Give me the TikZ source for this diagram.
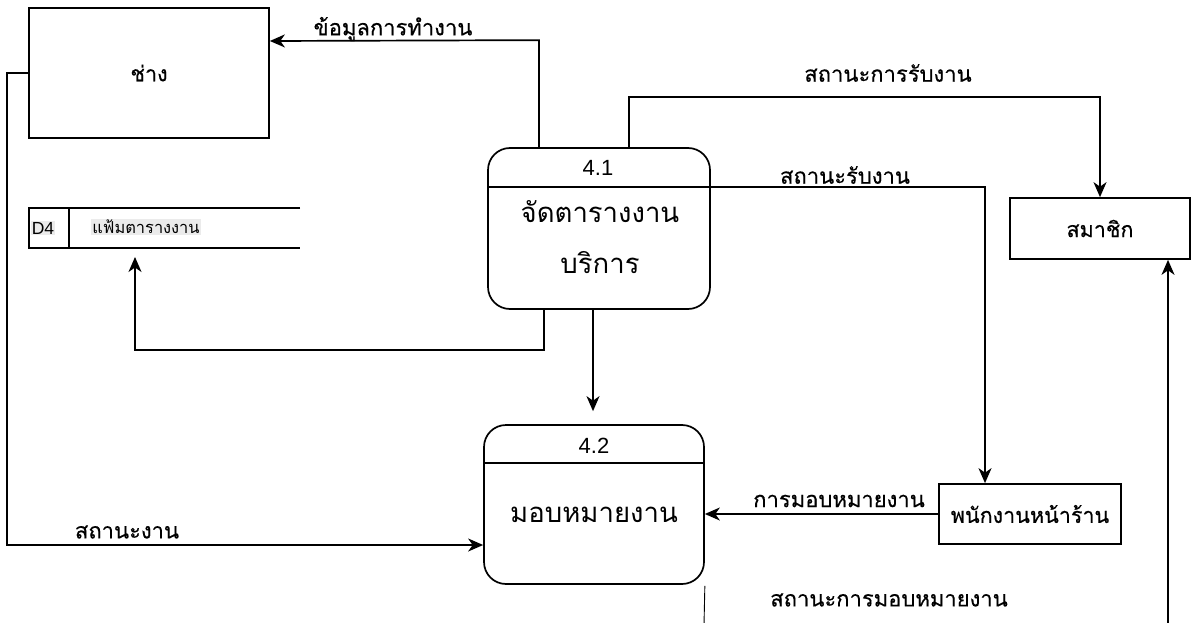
\documentclass[tikz,border=0pt]{standalone}
\usepackage{fontspec}
\setmainfont{Liberation Sans}
\newfontfamily\thai[Script=Thai]{Loma}
\newfontfamily\thaimed[Script=Thai,FakeBold=0.35]{Loma}
\usetikzlibrary{arrows.meta}
\begin{document}
\begin{tikzpicture}[x=1pt,y=-1pt,
  arr/.style={line width=1.7pt,-{Stealth[length=15pt,width=13pt,inset=4.5pt]}},
  ln/.style={line width=1.7pt},
  entity/.style={draw,line width=1.7pt,inner sep=0pt,font=\thaimed\fontsize{21.5}{24}\selectfont},
  proc/.style={draw,line width=1.7pt,rounded corners=22pt,inner sep=0pt},
  lbl/.style={inner sep=0pt,font=\thaimed\fontsize{22}{25}\selectfont},
  ptext/.style={inner sep=0pt,font=\thai\fontsize{27.5}{31}\selectfont},
  pnum/.style={inner sep=0pt,font=\fontsize{22}{25}\selectfont},
  storetxt/.style={inner sep=1pt,fill=black!8}]
\useasboundingbox (0,0) rectangle (1191,623);
\fill[white] (0,0) rectangle (1191,623);

% entities
\node[entity,minimum width=240pt,minimum height=130pt] (chang) at (149,73) {ช่าง};
\node[entity,minimum width=180pt,minimum height=61pt] (member) at (1100,228.5) {สมาชิก};
\node[entity,minimum width=182pt,minimum height=60pt] (staff) at (1030,514) {พนักงานหน้าร้าน};

% data store
\node[minimum width=271pt,minimum height=40pt,inner sep=0pt] (store) at (164.5,228) {};
\draw[ln] (store.north east) -- (store.north west) -- (store.south west) -- (store.south east);
\draw[ln] ([xshift=40pt]store.north west) -- ([xshift=40pt]store.south west);
\node[storetxt,font=\fontsize{17.5}{20}\selectfont] (d4id) at (43,228) {D4};
\node[storetxt,font=\thai\fontsize{16.4}{19}\selectfont] (d4name) at (146,227) {แฟ้มตารางงาน};
\coordinate (d4in) at (135,257);

% processes
\node[proc,minimum width=222pt,minimum height=161pt] (p41) at (599,228.5) {};
\draw[ln] ([yshift=-40pt]p41.north west) -- ([yshift=-40pt]p41.north east);
\node[pnum] (p41n) at (598,168) {4.1};
\node[ptext] (p41a) at (600,212) {จัดตารางงาน};
\node[ptext] (p41b) at (600,263) {บริการ};

\node[proc,minimum width=220pt,minimum height=159pt] (p42) at (594,504.5) {};
\draw[ln] ([yshift=-39pt]p42.north west) -- ([yshift=-39pt]p42.north east);
\node[pnum] (p42n) at (594,446) {4.2};
\node[ptext] (p42a) at (594,515) {มอบหมายงาน};

\coordinate (botL) at (704,625);
\coordinate (botR) at (1168,625);

% flows
\draw[arr] ([xshift=-60pt]p41.north) -- ++(0,-107) -- ([yshift=32pt]chang.east);
\node[lbl] (l1) at (393,29) {ข้อมูลการทำงาน};

\draw[arr] ([xshift=-55pt]p41.south) -- ++(0,40) -| (d4in);

\draw[arr] ([xshift=-6pt]p41.south) -- ([xshift=-1pt,yshift=13pt]p42.north);

\draw[arr] ([xshift=30pt]p41.north) -- ++(0,-50) -| (member.north);
\node[lbl] (l2) at (888,73) {สถานะการรับงาน};

\draw[arr] ([yshift=-40pt]p41.north east) -| ([xshift=-45pt]staff.north);
\node[lbl] (l3) at (845,175) {สถานะรับงาน};

\draw[arr] (staff.west) -- (staff.west -| p42.east);
\node[lbl] (l4) at (839,501) {การมอบหมายงาน};

\draw[arr] (chang.west) -- ++(-21,0) |- ([yshift=-40.5pt]p42.west);
\node[lbl] (l5) at (127,532) {สถานะงาน};

\draw[line width=0.9pt] ([yshift=-1pt]p42.south east) -- (botL);
\node[lbl] (l6) at (889,600) {สถานะการมอบหมายงาน};

\draw[arr] (botR) -- (botR |- member.south);
\end{tikzpicture}
\end{document}
